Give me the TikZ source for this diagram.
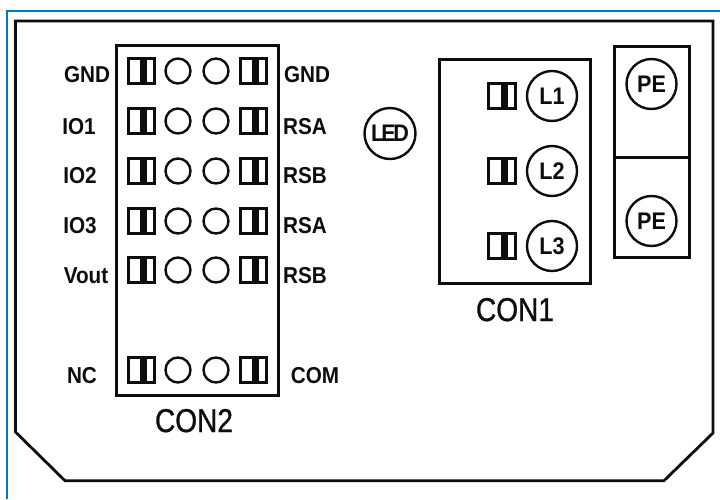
\documentclass[tikz,border=0pt]{standalone}
\usepackage{fontspec}
\setmainfont{Liberation Sans}
\newfontfamily\narrowr[FakeStretch=0.85,FakeBold=0.8]{Liberation Sans}
\newfontfamily\narrowb[FakeStretch=0.9]{Liberation Sans Bold}
\definecolor{ink}{gray}{0.05}
\definecolor{rim}{RGB}{0,120,200}
\tikzset{
  board/.style={line width=2.8pt,draw=ink},
  boxline/.style={rectangle,draw=ink,line width=3pt,inner sep=0pt},
  hole/.style={circle,draw=ink,line width=2.4pt,minimum size=25pt,inner sep=0pt},
  term/.style={circle,draw=ink,line width=2.4pt,minimum size=50pt,inner sep=0pt,text=ink,font=\fontsize{24}{24}\narrowb},
  pin/.style={rectangle,draw=ink,line width=3pt,minimum width=26pt,minimum height=25pt,inner sep=0pt,
    path picture={\fill[ink] ([xshift=-1.5pt]path picture bounding box.south) rectangle ([xshift=5.5pt]path picture bounding box.north);}},
  lab/.style={font=\fontsize{23}{23}\narrowb,text=ink,inner sep=0pt,anchor=base},
  con/.style={font=\fontsize{33}{33}\narrowr,text=ink,inner sep=0pt,anchor=base}
}
\begin{document}
\begin{tikzpicture}[x=1pt,y=-1pt]
\useasboundingbox (0,0) rectangle (720,499);
\fill[white] (0,0) rectangle (720,499);
\draw[line width=2.2pt,draw=rim] (7,499) -- (7,11) -- (720,11);
\draw[board] (15.5,21) -- (713,21) -- (713,433) -- (664,480.7) -- (65,480.7) -- (15.5,432) -- cycle;
\node[boxline,minimum width=162pt,minimum height=350pt] (con2box) at (197,220) {};
\foreach \n/\y in {a/71,b/121,c/171,d/221,e/270,f/370}{
  \node[pin] (p1\n) at (141,\y) {};
  \node[hole] (h1\n) at (178,\y) {};
  \node[hole] (h2\n) at (216,\y) {};
  \node[pin] (p2\n) at (253,\y) {};
}
\node[lab] (l1) at (87,82) {GND};
\node[lab] (l2) at (79,134) {IO1};
\node[lab] (l3) at (80,183) {IO2};
\node[lab] (l4) at (80,233) {IO3};
\node[lab] (l5) at (86,283) {Vout};
\node[lab] (l6) at (82,383) {NC};
\node[lab] (r1) at (307,82) {GND};
\node[lab] (r2) at (305,134) {RSA};
\node[lab] (r3) at (305,183) {RSB};
\node[lab] (r4) at (305,233) {RSA};
\node[lab] (r5) at (305,283) {RSB};
\node[lab] (r6) at (315,383) {COM};
\node[con] (c2) at (194,432) {CON2};
\node[term,minimum size=51pt] (led) at (390,133.5) {L\kern-3pt E\kern-2.5pt D};
\node[boxline,minimum width=151pt,minimum height=224pt] (con1box) at (514.5,171) {};
\foreach \n/\y in {1/96,2/171,3/246}{
  \node[pin,minimum width=27pt] (q\n) at (502,\y) {};
  \node[term] (L\n) at (552,\y) {L\n};
}
\node[con] (c1) at (515,321) {CON1};
\node[boxline,minimum width=75pt,minimum height=211pt] (pebox) at (651.5,151.5) {};
\draw[ink,line width=3pt] (pebox.west |- 0,157) -- (pebox.east |- 0,157);
\node[term] (pe1) at (651.5,84) {PE};
\node[term] (pe2) at (651.5,221) {PE};
\end{tikzpicture}
\end{document}
